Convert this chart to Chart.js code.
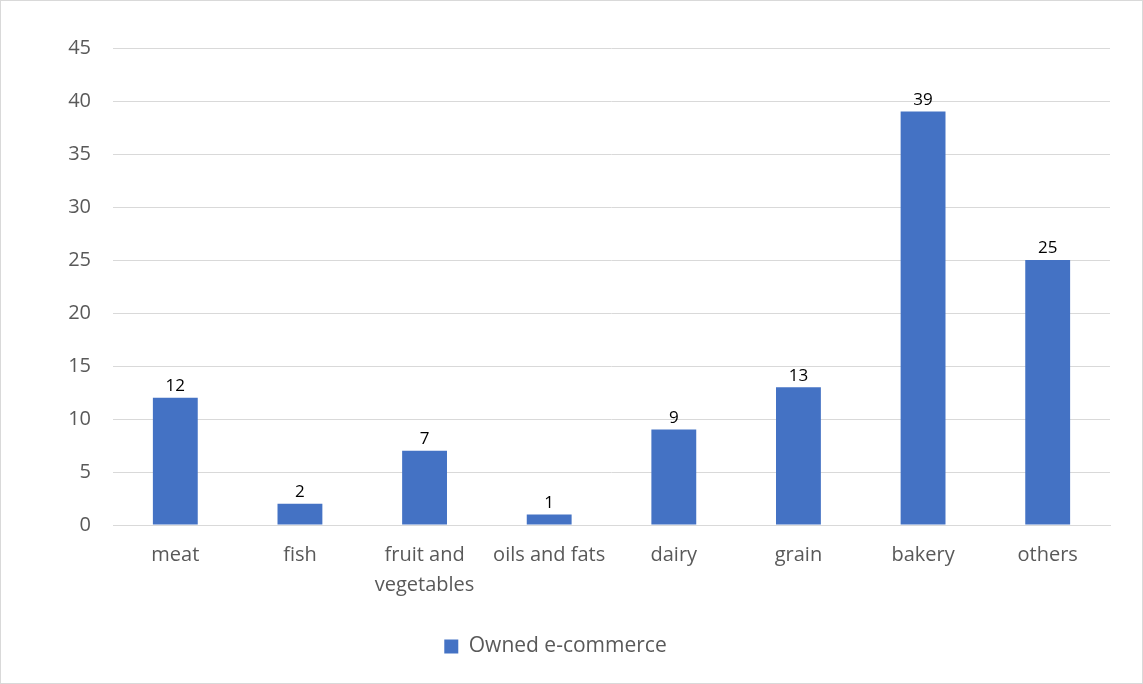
<!DOCTYPE html>
<html>
<head>
<meta charset="utf-8">
<script src="https://cdn.jsdelivr.net/npm/chart.js@4.4.1/dist/chart.umd.min.js"></script>
<style>
  html, body { margin: 0; padding: 0; background: #fff; }
  #wrap { position: relative; width: 1141px; height: 682px; border: 1px solid #d9d9d9; }
  canvas { display: block; }
</style>
</head>
<body>
<div id="wrap"><canvas id="barchart" width="1141" height="682"></canvas></div>
<script>
// datos
const categories = ['meat', 'fish', ['fruit and', 'vegetables'], 'oils and fats', 'dairy', 'grain', 'bakery', 'others'];
const ownedEcommerce = [12, 2, 7, 1, 9, 13, 39, 25];
const yTicks = [0, 5, 10, 15, 20, 25, 30, 35, 40, 45];

const FONT = "'Open Sans', 'Noto Sans', sans-serif";

// etiquetas de valor encima de cada barra
const valueLabels = {
    id: 'valueLabels',
    afterDatasetsDraw(chart) {
        const ctx = chart.ctx;
        ctx.save();
        ctx.font = '17px ' + FONT;
        ctx.fillStyle = '#000';
        ctx.textAlign = 'center';
        ctx.textBaseline = 'bottom';
        chart.getDatasetMeta(0).data.forEach((bar, i) => {
            ctx.fillText(ownedEcommerce[i], bar.x, bar.y - 3);
        });
        ctx.restore();
    }
};

const ctx = document.getElementById('barchart').getContext('2d');
const barchart = new Chart(ctx, {
    type: 'bar',
    data: {
        labels: categories,
        datasets: [{
            label: 'Owned e-commerce',
            data: ownedEcommerce,
            backgroundColor: '#4472c4',
            borderWidth: 0,
            categoryPercentage: 1,
            barPercentage: 0.36
        }]
    },
    options: {
        responsive: false,
        animation: false,
        layout: { padding: { top: 47, right: 32, left: 0, bottom: 16 } },
        plugins: {
            tooltip: { enabled: false },
            legend: {
                position: 'bottom',
                labels: {
                    color: '#595959',
                    font: { family: FONT, size: 21 },
                    boxWidth: 14,
                    boxHeight: 14,
                    padding: 10
                }
            }
        },
        scales: {
            y: {
                min: 0,
                max: 45,
                afterBuildTicks: axis => { axis.ticks = yTicks.map(v => ({ value: v })); },
                afterFit: axis => { axis.width = 112; },
                ticks: {
                    color: '#595959',
                    font: { family: FONT, size: 20 },
                    padding: 22
                },
                grid: { color: '#d9d9d9', lineWidth: 1, drawTicks: false },
                border: { display: false }
            },
            x: {
                afterFit: axis => { axis.height = 101; },
                ticks: {
                    color: '#595959',
                    font: { family: FONT, size: 20, lineHeight: 1.5 },
                    padding: 15,
                    maxRotation: 0,
                    autoSkip: false
                },
                grid: { display: false, drawTicks: false },
                border: { color: '#d9d9d9', width: 1 }
            }
        }
    },
    plugins: [valueLabels]
});
</script>
</body>
</html>
